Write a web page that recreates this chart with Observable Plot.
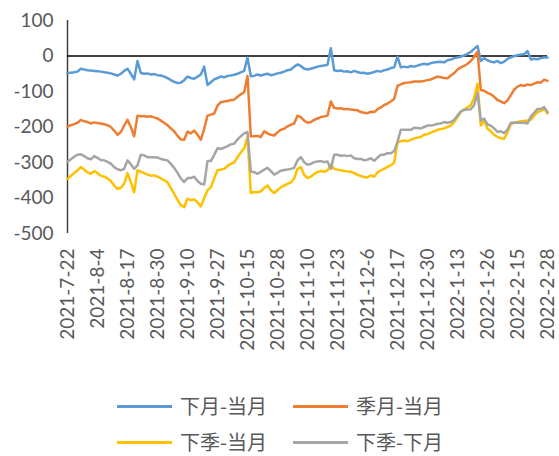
<!DOCTYPE html>
<html>
<head>
<meta charset="utf-8">
<script src="https://cdn.jsdelivr.net/npm/d3@7"></script>
<script src="https://cdn.jsdelivr.net/npm/@observablehq/plot@0.6"></script>
<style>
  html, body { margin: 0; padding: 0; background: #fff; }
  #wrap { position: relative; width: 559px; height: 456px; }
  #chart { position: absolute; left: 0; top: 0; }
  .leg { position: absolute; font-family: "Noto Sans CJK SC", sans-serif; font-size: 20px; color: #595959; line-height: 26px; white-space: nowrap; }
  .sw { position: absolute; width: 55px; height: 3px; }
</style>
</head>
<body>
<div id="wrap">
  <div id="chart"></div>
  <div id="legend"></div>
</div>
<script>
const dates = [
"2021-7-22","2021-7-23","2021-7-26","2021-7-27","2021-7-28","2021-7-29","2021-7-30","2021-8-2","2021-8-3","2021-8-4",
"2021-8-5","2021-8-6","2021-8-9","2021-8-10","2021-8-11","2021-8-12","2021-8-13","2021-8-16","2021-8-17","2021-8-18",
"2021-8-19","2021-8-20","2021-8-23","2021-8-24","2021-8-25","2021-8-26","2021-8-27","2021-8-30","2021-8-31","2021-9-1",
"2021-9-2","2021-9-3","2021-9-6","2021-9-7","2021-9-8","2021-9-9","2021-9-10","2021-9-13","2021-9-14","2021-9-15",
"2021-9-16","2021-9-17","2021-9-22","2021-9-23","2021-9-24","2021-9-27","2021-9-28","2021-9-29","2021-9-30","2021-10-8",
"2021-10-11","2021-10-12","2021-10-13","2021-10-14","2021-10-15","2021-10-18","2021-10-19","2021-10-20","2021-10-21","2021-10-22",
"2021-10-25","2021-10-26","2021-10-27","2021-10-28","2021-10-29","2021-11-1","2021-11-2","2021-11-3","2021-11-4","2021-11-5",
"2021-11-8","2021-11-9","2021-11-10","2021-11-11","2021-11-12","2021-11-15","2021-11-16","2021-11-17","2021-11-18","2021-11-19",
"2021-11-22","2021-11-23","2021-11-24","2021-11-25","2021-11-26","2021-11-29","2021-11-30","2021-12-1","2021-12-2","2021-12-3",
"2021-12-6","2021-12-7","2021-12-8","2021-12-9","2021-12-10","2021-12-13","2021-12-14","2021-12-15","2021-12-16","2021-12-17",
"2021-12-20","2021-12-21","2021-12-22","2021-12-23","2021-12-24","2021-12-27","2021-12-28","2021-12-29","2021-12-30","2021-12-31",
"2022-1-4","2022-1-5","2022-1-6","2022-1-7","2022-1-10","2022-1-11","2022-1-12","2022-1-13","2022-1-14","2022-1-17",
"2022-1-18","2022-1-19","2022-1-20","2022-1-21","2022-1-24","2022-1-25","2022-1-26","2022-1-27","2022-1-28","2022-2-7",
"2022-2-8","2022-2-9","2022-2-10","2022-2-11","2022-2-14","2022-2-15","2022-2-16","2022-2-17","2022-2-18","2022-2-21",
"2022-2-22","2022-2-23","2022-2-24","2022-2-25","2022-2-28"
];

const tickLabels = ["2021-7-22","2021-8-4","2021-8-17","2021-8-30","2021-9-10","2021-9-27","2021-10-15","2021-10-28","2021-11-10","2021-11-23","2021-12-6","2021-12-17","2021-12-30","2022-1-13","2022-1-26","2022-2-15","2022-2-28"];
const yTicks = [100, 0, -100, -200, -300, -400, -500];

const seriesNames = ["下月-当月", "季月-当月", "下季-当月", "下季-下月"];
const seriesColors = ["#5B9BD5", "#ED7D31", "#FFC000", "#A5A5A5"];

const nextMonth = [
-48,-47,-46,-44,-36,-38,-40,-41,-42,-43,
-44,-46,-47,-49,-52,-55,-50,-42,-36,-50,
-66,-14,-48,-50,-49,-52,-51,-54,-55,-58,
-62,-68,-73,-76,-75,-68,-58,-62,-64,-58,
-52,-30,-82,-74,-66,-62,-58,-60,-56,-55,
-53,-50,-46,-42,-4,-57,-56,-52,-55,-52,
-50,-54,-52,-49,-47,-44,-40,-38,-30,-24,
-28,-36,-38,-36,-33,-30,-28,-27,-25,22,
-40,-42,-41,-44,-43,-46,-42,-45,-48,-47,
-50,-48,-45,-42,-44,-40,-38,-34,-32,-2,
-32,-30,-32,-28,-30,-27,-24,-22,-24,-20,
-18,-17,-16,-18,-12,-10,-6,-4,-2,2,
6,12,20,28,-14,-6,-12,-16,-18,-14,
-20,-16,-8,-4,0,2,4,5,14,-10,
-8,-9,-6,-4,-4
];

const quarterMonth = [
-199,-195,-192,-188,-180,-184,-186,-190,-187,-189,
-190,-192,-195,-200,-210,-222,-214,-196,-180,-200,
-226,-168,-170,-169,-171,-170,-173,-176,-182,-188,
-195,-204,-212,-225,-235,-236,-213,-218,-210,-222,
-236,-205,-168,-165,-162,-140,-130,-128,-127,-124,
-123,-115,-108,-102,-56,-226,-226,-225,-228,-212,
-218,-222,-224,-215,-208,-205,-198,-194,-190,-168,
-172,-182,-188,-186,-180,-176,-172,-170,-168,-128,
-146,-148,-147,-150,-149,-151,-152,-153,-158,-160,
-161,-157,-158,-150,-145,-138,-134,-128,-121,-84,
-80,-76,-75,-74,-72,-72,-72,-70,-68,-66,
-62,-58,-60,-62,-63,-55,-48,-38,-32,-28,
-22,-14,-2,12,-96,-98,-104,-108,-115,-124,
-128,-133,-125,-110,-95,-86,-82,-84,-80,-82,
-78,-74,-75,-67,-70
];

const nextQuarter = [
-346,-338,-330,-322,-313,-320,-328,-332,-324,-330,
-337,-340,-345,-352,-365,-374,-372,-360,-330,-355,
-384,-322,-326,-330,-334,-337,-336,-340,-345,-350,
-356,-372,-388,-405,-420,-426,-402,-406,-404,-412,
-424,-400,-378,-370,-345,-322,-320,-318,-310,-304,
-300,-285,-272,-260,-228,-386,-383,-384,-381,-372,
-365,-378,-386,-378,-370,-365,-360,-356,-345,-318,
-313,-335,-344,-340,-332,-327,-324,-326,-322,-306,
-318,-320,-322,-324,-325,-326,-330,-335,-338,-341,
-342,-336,-340,-328,-322,-318,-312,-308,-300,-244,
-240,-238,-240,-236,-232,-230,-228,-222,-220,-216,
-212,-208,-206,-204,-200,-196,-186,-172,-158,-150,
-145,-138,-118,-78,-196,-182,-205,-212,-222,-228,
-232,-233,-215,-192,-188,-186,-184,-183,-182,-180,
-168,-158,-155,-148,-162
];

const quarterNext = [
-298,-291,-284,-278,-277,-282,-288,-291,-282,-287,
-293,-294,-298,-303,-313,-319,-322,-318,-294,-305,
-318,-308,-278,-280,-285,-285,-285,-286,-290,-292,
-294,-304,-315,-329,-345,-355,-344,-344,-340,-352,
-360,-362,-296,-296,-279,-260,-262,-258,-254,-249,
-247,-235,-226,-218,-214,-326,-327,-332,-326,-320,
-315,-324,-334,-329,-323,-321,-320,-318,-315,-294,
-285,-299,-306,-304,-299,-297,-296,-299,-297,-318,
-278,-278,-281,-280,-282,-280,-288,-290,-290,-294,
-292,-288,-295,-286,-278,-278,-274,-274,-268,-242,
-208,-208,-208,-208,-202,-203,-204,-200,-196,-196,
-194,-191,-190,-186,-188,-186,-180,-168,-156,-152,
-151,-150,-138,-104,-182,-176,-193,-196,-204,-214,
-212,-217,-207,-188,-188,-188,-188,-188,-190,-170,
-160,-149,-149,-144,-158
];

const allValues = [nextMonth, quarterMonth, nextQuarter, quarterNext];
const rows = seriesNames.map((name, s) => dates.map((d, i) => ({date: d, value: allValues[s][i], series: name})));

const fontNum = "Lato, 'Open Sans', sans-serif";

const chart = Plot.plot({
  width: 559,
  height: 345,
  marginLeft: 67,
  marginRight: 12,
  marginTop: 20,
  marginBottom: 112,
  style: {fontFamily: fontNum, fontSize: "19px", color: "#595959", background: "#fff", overflow: "visible"},
  x: {type: "point", domain: dates, padding: 0, axis: null},
  y: {domain: [-500, 100], axis: null},
  marks: [
    Plot.axisY({ticks: yTicks, tickSize: 0, tickPadding: 14, fontSize: 19, tickFormat: d => String(d), fill: "#595959", label: null}),
    Plot.axisX({ticks: tickLabels, tickSize: 0, tickPadding: 15, tickRotate: -90, fontSize: 19, tickFormat: d => d, fill: "#595959", label: null}),
    Plot.ruleX([dates[0]], {y1: 100, y2: -500, stroke: "#404040", strokeWidth: 1.5}),
    Plot.ruleY([0], {stroke: "#000", strokeWidth: 1.5}),
    ...rows.map((r, s) => Plot.line(r, {x: "date", y: "value", stroke: seriesColors[s], strokeWidth: 2.5, strokeLinejoin: "round"}))
  ]
});
document.getElementById("chart").appendChild(chart);

// legend
const legend = document.getElementById("legend");
const legPos = [[117, 406], [293, 406], [117, 442], [293, 442]];
seriesNames.forEach((name, s) => {
  const [x, y] = legPos[s];
  const sw = document.createElement("div");
  sw.className = "sw";
  sw.style.left = x + "px";
  sw.style.top = (y - 1.5) + "px";
  sw.style.background = seriesColors[s];
  legend.appendChild(sw);
  const t = document.createElement("div");
  t.className = "leg";
  t.style.left = (x + 63) + "px";
  t.style.top = (y - 13) + "px";
  t.textContent = name;
  legend.appendChild(t);
});
</script>
</body>
</html>
